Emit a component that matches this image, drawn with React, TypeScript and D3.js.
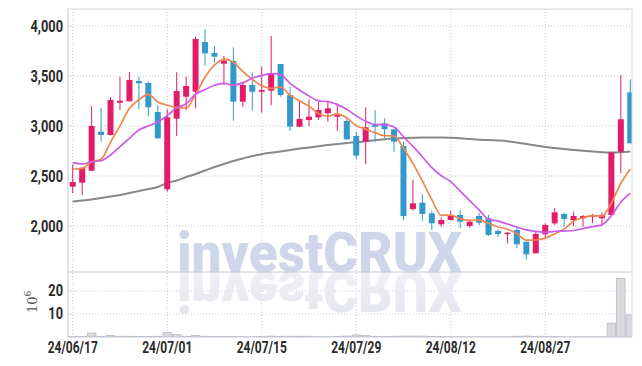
import React from 'react';
import * as d3 from 'd3';

const dates = [
  '24/06/17','24/06/18','24/06/19','24/06/20','24/06/21','24/06/24','24/06/25','24/06/26','24/06/27','24/06/28',
  '24/07/01','24/07/02','24/07/03','24/07/04','24/07/05','24/07/08','24/07/09','24/07/10','24/07/11','24/07/12',
  '24/07/15','24/07/16','24/07/17','24/07/18','24/07/19','24/07/22','24/07/23','24/07/24','24/07/25','24/07/26',
  '24/07/29','24/07/30','24/07/31','24/08/01','24/08/02','24/08/05','24/08/06','24/08/07','24/08/08','24/08/09',
  '24/08/12','24/08/13','24/08/14','24/08/16','24/08/19','24/08/20','24/08/21','24/08/22','24/08/23','24/08/26',
  '24/08/27','24/08/28','24/08/29','24/08/30','24/09/02','24/09/03','24/09/04','24/09/05','24/09/06','24/09/09'
];

const openP = [2393,2433,2553,2943,2910,3233,3247,3450,3430,3140,2367,3073,3293,3343,3840,3730,3623,3650,3243,3410,3343,3353,3620,3310,2993,3060,3087,3127,3093,3050,2900,2843,3010,3027,2967,2800,2170,2233,2127,2017,2060,2110,2000,2100,2077,1950,1920,1960,1843,1727,1917,2027,2120,2060,2077,2093,2077,2110,2743,3337];
const highP = [2617,2590,3200,3177,3290,3493,3540,3493,3443,3210,3167,3537,3493,3893,3967,3800,3700,3787,3443,3537,3593,3900,3620,3393,3260,3267,3243,3253,3227,3093,2943,3187,3160,3077,2967,2843,2460,2317,2153,2087,2150,2160,2053,2133,2110,1967,1940,1993,1843,1943,2027,2177,2133,2143,2110,2120,2133,2737,3510,3467];
const lowP = [2327,2310,2550,2843,2905,3160,3245,3167,3093,2870,2343,2900,3160,3177,3603,3633,3410,3053,3193,3153,3133,3207,3293,2950,2990,3000,3060,3043,2950,2860,2667,2620,2843,2877,2743,2060,2153,2053,1960,1993,2053,1977,1983,2010,1903,1893,1827,1777,1667,1727,1867,2010,1993,2000,1993,2027,2010,2100,2527,2827];
const closeP = [2440,2583,3000,2910,3260,3253,3460,3427,3187,2877,3087,3350,3400,3870,3727,3693,3653,3243,3410,3343,3360,3527,3310,2993,3070,3093,3160,3177,3110,2867,2703,2987,2993,2967,2843,2100,2227,2120,2027,2060,2110,2043,2043,2033,1910,1920,1933,1817,1717,1920,2010,2137,2070,2100,2100,2110,2110,2737,3067,2827];

const ma5 = [2570,2577,2643,2667,2839,3001,3177,3262,3317,3241,3208,3186,3180,3317,3487,3608,3669,3637,3545,3468,3402,3377,3390,3307,3252,3199,3125,3099,3122,3081,3003,2969,2932,2903,2899,2778,2626,2451,2263,2107,2109,2072,2057,2058,2028,1990,1968,1923,1859,1861,1879,1920,1971,2047,2083,2103,2098,2231,2425,2570];
const ma10 = [2633,2620,2643,2653,2710,2793,2877,2960,3000,3040,3104,3181,3221,3317,3364,3408,3427,3409,3431,3478,3505,3523,3514,3426,3360,3300,3251,3244,3214,3167,3101,3047,3015,3013,2990,2891,2797,2692,2583,2503,2443,2349,2254,2161,2067,2049,2020,1990,1961,1947,1937,1946,1949,1955,1974,1993,2011,2103,2238,2329];
const maLong = [2245,2255,2265,2280,2295,2310,2330,2350,2370,2390,2430,2455,2490,2520,2555,2590,2620,2650,2675,2700,2718,2732,2745,2760,2775,2785,2797,2810,2820,2830,2838,2848,2857,2868,2875,2880,2883,2885,2885,2884,2882,2878,2870,2862,2860,2855,2848,2835,2820,2805,2790,2780,2770,2760,2752,2745,2738,2735,2738,2745];
const volume = [0.3,0.2,1.7,0.3,0.7,0.3,0.3,0.2,0.2,0.3,1.9,1.0,0.3,0.7,0.3,0.2,0.2,0.2,0.1,0.1,0.2,0.4,0.3,0.3,0.3,0.3,0.1,0.1,0.3,0.4,0.9,0.6,0.3,0.2,0.3,0.4,0.4,0.4,0.3,0.2,0.1,0.1,0.1,0.1,0.1,0.1,0.1,0.3,0.4,0.3,0.3,0.2,0.1,0.1,0.1,0.1,0.1,6.0,25.5,9.6];

const priceTicks = [2000, 2500, 3000, 3500, 4000];
const volTicks = [10, 20];
const xTickDates = ['24/06/17','24/07/01','24/07/15','24/07/29','24/08/12','24/08/27'];

const L = 68, R = 632, T = 9, MID = 272, VB = 337;
const UP = '#e31c6a', DOWN = '#3399cc';
const GRID = '#c4c4dc';
const LABEL_FONT = 'Roboto, "DejaVu Sans", sans-serif';
const WM_FONT = 'Roboto, "Liberation Sans", Arial, sans-serif';

export default function App() {
  const x = d3.scaleBand<string>().domain(dates).range([L, L + 567]).padding(0);
  const bw = x.bandwidth();
  const cx = (i: number) => (x(dates[i]) as number) + bw / 2;
  const y = d3.scaleLinear().domain([1540, 4170]).range([MID, T]);
  const yv = d3.scaleLinear().domain([0, 28.26]).range([VB, MID]);
  const fmt = d3.format(',');

  const line = d3.line<number>().x((_, i) => cx(i)).y((d) => y(d)).curve(d3.curveMonotoneX);

  const bodyW = 6;

  return (
    <svg width={642} height={366} style={{ position: 'absolute', left: 0, top: 0, background: '#fff' }}>
      <defs>
        <clipPath id="plotClip"><rect x={L} y={T} width={R - L} height={MID - T} /></clipPath>
        <clipPath id="volClip"><rect x={L} y={MID} width={R - L} height={VB - MID} /></clipPath>
        <linearGradient id="refl" x1="0" y1="0" x2="0" y2="1">
          <stop offset="0" stopColor="#e3e3ec" stopOpacity="1" />
          <stop offset="1" stopColor="#eeeef3" stopOpacity="0.8" />
        </linearGradient>
      </defs>

      {/* grid */}
      {priceTicks.map((t) => (
        <line key={'pg' + t} x1={L} x2={R} y1={y(t)} y2={y(t)} stroke={GRID} strokeDasharray="1,2" />
      ))}
      {volTicks.map((t) => (
        <line key={'vg' + t} x1={L} x2={R} y1={yv(t)} y2={yv(t)} stroke={GRID} strokeDasharray="1,2" />
      ))}
      {xTickDates.map((d) => (
        <line key={'xg' + d} x1={(x(d) as number) + bw / 2} x2={(x(d) as number) + bw / 2} y1={T} y2={VB} stroke={GRID} strokeDasharray="1,2" />
      ))}

      {/* watermark */}
      <text x={177} y={272} fontFamily={WM_FONT} fontWeight={900} fontSize={55}
        fill="#d0d6ea" textLength={285} lengthAdjust="spacingAndGlyphs">investCRUX</text>
      <g clipPath="url(#volClip)">
        <text x={177} y={272} transform="translate(0,544) scale(1,-1)" fontFamily={WM_FONT}
          fontWeight={900} fontSize={55} fill="url(#refl)" textLength={285} lengthAdjust="spacingAndGlyphs">investCRUX</text>
      </g>

      {/* volume */}
      <g clipPath="url(#volClip)">
        {volume.map((v, i) => (
          <rect key={'v' + i} x={(x(dates[i]) as number) + 0.5} y={yv(v)} width={bw - 1} height={VB - yv(v)}
            fill="#d9d9de" stroke="#b9b9c2" strokeWidth={0.8} />
        ))}
      </g>

      <g clipPath="url(#plotClip)">
        <path d={line(maLong) || ''} fill="none" stroke="#888" strokeWidth={2} />
        {dates.map((d, i) => {
          const up = closeP[i] >= openP[i];
          const col = up ? UP : DOWN;
          const top = y(Math.max(openP[i], closeP[i]));
          const bot = y(Math.min(openP[i], closeP[i]));
          return (
            <g key={'c' + i}>
              <line x1={cx(i)} x2={cx(i)} y1={y(highP[i])} y2={y(lowP[i])} stroke={col} strokeWidth={1} />
              <rect x={cx(i) - bodyW / 2} y={top} width={bodyW} height={Math.max(1.5, bot - top)} fill={col} />
            </g>
          );
        })}
        <path d={line(ma5) || ''} fill="none" stroke="#f0874d" strokeWidth={1.7} />
        <path d={line(ma10) || ''} fill="none" stroke="#cc5ae8" strokeWidth={1.7} />
      </g>

      {/* frame */}
      <line x1={L} x2={R} y1={T} y2={T} stroke="#cfcfd8" />
      <line x1={L} x2={R} y1={MID} y2={MID} stroke="#c8c8d4" />
      <line x1={L} x2={R} y1={VB} y2={VB} stroke="#c8c8d4" />
      <line x1={L} x2={L} y1={T} y2={VB} stroke="#c8c8d4" />
      <line x1={R} x2={R} y1={T} y2={VB} stroke="#d8d8e0" />

      {/* price labels */}
      {priceTicks.map((t) => (
        <g key={'pl' + t} transform={`translate(63,${y(t) + 5.5}) scale(0.8,1)`}>
          <text textAnchor="end" fontFamily={LABEL_FONT} fontWeight="bold" fontSize={16} fill="#2a2a2a">{fmt(t)}</text>
        </g>
      ))}
      {volTicks.map((t) => (
        <g key={'vl' + t} transform={`translate(63,${yv(t) + 5.5}) scale(0.8,1)`}>
          <text textAnchor="end" fontFamily={LABEL_FONT} fontWeight="bold" fontSize={16} fill="#2a2a2a">{t}</text>
        </g>
      ))}
      <g transform="translate(37,313) rotate(-90)">
        <text fontFamily='"DejaVu Serif", serif' fontSize={13} fill="#555">10<tspan dy={-6} fontSize={9}>6</tspan></text>
      </g>

      {/* x labels */}
      {xTickDates.map((d) => (
        <g key={'xl' + d} transform={`translate(${(x(d) as number) + bw / 2},353) scale(0.75,1)`}>
          <text textAnchor="middle" fontFamily={LABEL_FONT} fontWeight="bold" fontSize={16} fill="#2a2a2a">{d}</text>
        </g>
      ))}
    </svg>
  );
}
